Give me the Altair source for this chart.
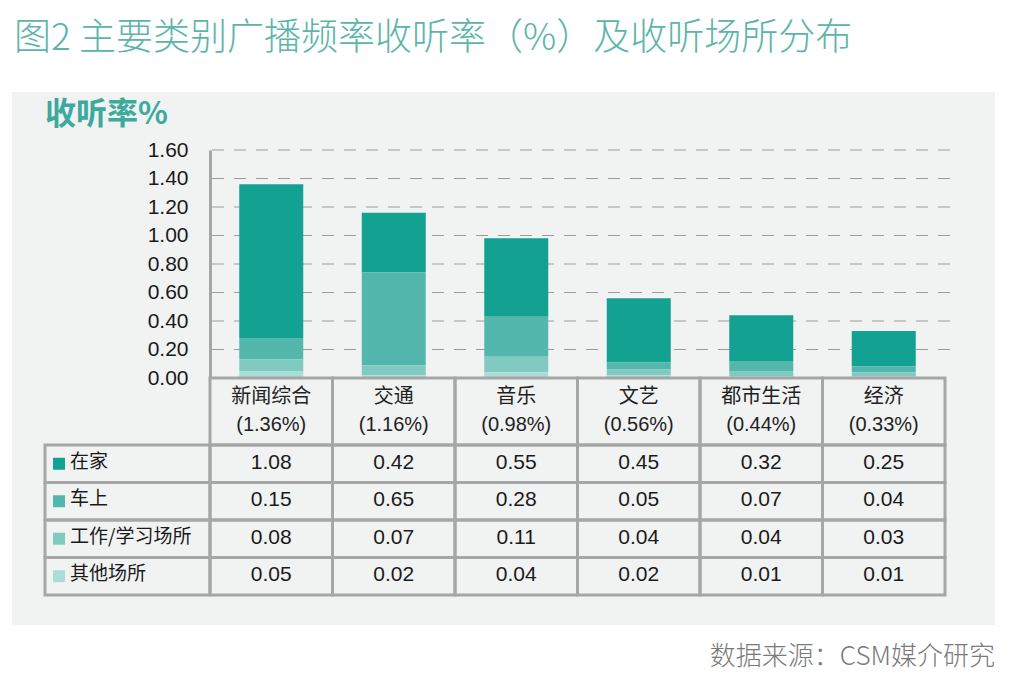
import altair as alt
import pandas as pd

# ---------------- data ----------------
categories = ["新闻综合", "交通", "音乐", "文艺", "都市生活", "经济"]
totals = [1.36, 1.16, 0.98, 0.56, 0.44, 0.33]
locations = ["在家", "车上", "工作/学习场所", "其他场所"]
home = [1.08, 0.42, 0.55, 0.45, 0.32, 0.25]
car = [0.15, 0.65, 0.28, 0.05, 0.07, 0.04]
work = [0.08, 0.07, 0.11, 0.04, 0.04, 0.03]
other = [0.05, 0.02, 0.04, 0.02, 0.01, 0.01]
y_ticks = [0.0, 0.2, 0.4, 0.6, 0.8, 1.0, 1.2, 1.4, 1.6]

title_text = "图2 主要类别广播频率收听率（%）及收听场所分布"
y_title_text = "收听率%"
source_text = "数据来源：CSM媒介研究"

colors = ["#13a192", "#54b7ad", "#80cac2", "#abdcd6"]
teal_title = "#5cb5aa"
border = "#a6a6a6"
ink = "#1a1a1a"
num_font = "Liberation Sans, Noto Sans CJK SC"
cjk_font = "Noto Sans CJK SC"

series = [home, car, work, other]
rows = []
for k, (loc, vals) in enumerate(zip(locations, series)):
    for c, v in zip(categories, vals):
        rows.append({"category": c, "location": loc, "value": v, "k": k})
df = pd.DataFrame(rows)

hdr = pd.DataFrame({
    "category": categories,
    "label": [f"{c}\n({t:.2f}%)" for c, t in zip(categories, totals)],
})
legend_df = pd.DataFrame({"location": locations})
grid_df = pd.DataFrame({"v": y_ticks[1:]})
one = pd.DataFrame({"a": [0]})

# ---------------- scales ----------------
xs = alt.Scale(domain=categories, paddingInner=0, paddingOuter=0)
ys = alt.Scale(domain=[0, 1.6], nice=False, zero=True)
rs = alt.Scale(domain=locations, range=[295, 445], paddingInner=0, paddingOuter=0)
cs = alt.Scale(domain=locations, range=colors)

X = alt.X("category:N", scale=xs, axis=None)
R = alt.Y("location:N", scale=rs, axis=None)

# ---------------- layers ----------------
panel = alt.Chart(one).mark_rect(color="#f1f3f3").encode(
    x=alt.value(-198), x2=alt.value(785), y=alt.value(-58), y2=alt.value(475)
)

grid = alt.Chart(grid_df).mark_rule(color="#9b9b9b", strokeWidth=1, strokeDash=[12, 10]).encode(
    y=alt.Y("v:Q", scale=ys, axis=None), x=alt.value(2), x2=alt.value(740)
)

bars = alt.Chart(df).mark_bar(size=64).encode(
    x=X,
    y=alt.Y(
        "value:Q",
        scale=ys,
        stack="zero",
        axis=alt.Axis(
            values=y_ticks,
            format=".2f",
            title=None,
            ticks=False,
            tickSize=0,
            labelPadding=22,
            labelFont=num_font,
            labelFontSize=21,
            labelColor=ink,
            domainColor=border,
            domainWidth=3,
            grid=False,
            zindex=1,
        ),
    ),
    color=alt.Color("location:N", scale=cs, legend=None),
    order=alt.Order("k:Q", sort="descending"),
)

hdr_cells = alt.Chart(hdr).mark_rect(fill="transparent", stroke=border, strokeWidth=3).encode(
    x=X, y=alt.value(228), y2=alt.value(295)
)
hdr_text = alt.Chart(hdr).mark_text(
    lineBreak="\n", lineHeight=28, font=num_font, fontSize=20, color="#222222", baseline="middle"
).encode(x=X, y=alt.value(247), text="label:N")

row_cells = alt.Chart(df).mark_rect(fill="transparent", stroke=border, strokeWidth=3).encode(x=X, y=R)
val_text = alt.Chart(df).mark_text(font=num_font, fontSize=21, color=ink, dy=-1).encode(
    x=X, y=R, text=alt.Text("value:Q", format=".2f")
)

leg_cells = alt.Chart(legend_df).mark_rect(fill="transparent", stroke=border, strokeWidth=3).encode(
    x=alt.value(-165), x2=alt.value(0), y=R
)
swatches = alt.Chart(legend_df).mark_square(size=144, opacity=1, filled=True, dy=-2).encode(
    x=alt.value(-151), y=R, color=alt.Color("location:N", scale=cs, legend=None)
)
leg_text = alt.Chart(legend_df).mark_text(
    align="left", font=cjk_font, fontSize=19, color=ink, dy=-2
).encode(x=alt.value(-140), y=R, text="location:N")

title = alt.Chart(one).mark_text(
    text=title_text, align="left", baseline="middle", font=cjk_font, fontSize=37,
    fontWeight=300, color=teal_title
).encode(x=alt.value(-196), y=alt.value(-111))

y_title = alt.Chart(one).mark_text(
    text=y_title_text, align="left", baseline="middle", font=cjk_font, fontSize=31,
    fontWeight="bold", color="#3ea99d"
).encode(x=alt.value(-165), y=alt.value(-35))

source = alt.Chart(one).mark_text(
    text=source_text, align="right", baseline="middle", font=cjk_font, fontSize=26,
    fontWeight=300, color="#7a7a7a"
).encode(x=alt.value(785), y=alt.value(507))

chart = (
    alt.layer(
        panel, grid, bars, hdr_cells, hdr_text, row_cells, val_text,
        leg_cells, swatches, leg_text, title, y_title, source,
    )
    .resolve_scale(y="independent")
    .properties(
        width=735,
        height=228,
        padding={"left": 202, "top": 142, "right": 67, "bottom": 306},
        autosize=alt.AutoSizeParams(type="none"),
        background="white",
    )
    .configure_view(strokeWidth=0)
)

chart.save("out.html", embed_options={"renderer": "svg", "actions": False})
